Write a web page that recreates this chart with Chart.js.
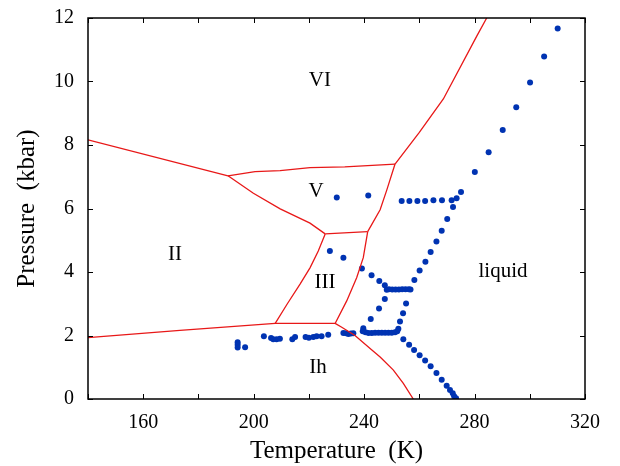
<!DOCTYPE html>
<html>
<head>
<meta charset="utf-8">
<script src="https://cdn.jsdelivr.net/npm/chart.js@4.4.0/dist/chart.umd.min.js"></script>
<style>
  body { margin: 0; background: #fff; }
  canvas { display: block; }
</style>
</head>
<body>
<canvas id="phase-chart" width="620" height="466"></canvas>
<script>
// Phase boundaries (T in K, P in kbar)
const lineII_VI_T = [140, 190.7];
const lineII_VI_P = [8.16, 7.03];
const lineV_VI_T = [190.7, 200.5, 209.6, 220.4, 233.0, 251.2];
const lineV_VI_P = [7.03, 7.16, 7.19, 7.29, 7.31, 7.40];
const lineVI_liq_T = [251.2, 260.0, 268.7, 280.8, 284.4];
const lineVI_liq_P = [7.40, 8.40, 9.45, 11.43, 12.0];
const lineII_V_T = [190.7, 199.9, 209.6, 220.4, 225.9];
const lineII_V_P = [7.03, 6.48, 5.99, 5.54, 5.20];
const lineV_III_T = [225.9, 241.3];
const lineV_III_P = [5.20, 5.27];
const lineV_liq_T = [241.3, 245.8, 248.2, 251.2];
const lineV_liq_P = [5.27, 5.96, 6.58, 7.40];
const lineII_III_T = [225.9, 223.4, 220.4, 216.8, 212.2, 207.8];
const lineII_III_P = [5.20, 4.66, 4.13, 3.62, 3.00, 2.38];
const lineIII_liq_T = [241.3, 239.7, 237.3, 233.7, 229.5];
const lineIII_liq_P = [5.27, 4.45, 3.82, 3.09, 2.38];
const lineII_Ih_T = [140, 173.3, 207.8, 229.5];
const lineII_Ih_P = [1.93, 2.16, 2.38, 2.38];
const lineIh_liq_T = [229.5, 231.9, 236.7, 242.7, 245.8, 250.6, 254.2, 257.8];
const lineIh_liq_P = [2.38, 2.26, 2.00, 1.55, 1.32, 0.91, 0.49, 0.0];

// Simulated melting / transition points
const dotT = [
  310.1, 305.2, 300.1, 295.1, 290.2, 285.1, 280.1, 275.1, 273.5, 271.7, 272.2,
  268.2, 265.1, 262.1, 259.3, 256.4, 253.6,
  270.1, 268.1, 266.2, 264.1, 262.2, 260.1, 258.2,
  230.1, 241.5,
  227.6, 232.5, 239.2, 242.7, 245.5, 247.5,
  248.2, 249.0, 250.2, 251.4, 252.6, 253.8, 255.0, 256.2, 256.8,
  247.5, 255.2, 245.4, 254.1, 242.4, 253.0, 239.7,
  239.5, 240.5, 241.6, 242.8, 244.0, 245.2, 246.4, 247.6, 248.8, 250.0, 251.2, 252.0, 252.4,
  254.2, 256.3, 258.1, 260.1, 262.1, 264.1, 266.2, 268.1, 269.9, 271.1, 272.1, 272.6, 273.3,
  232.5, 233.5, 234.3, 235.2, 236.1,
  218.8, 220.0, 221.6, 222.8, 224.6, 227.0,
  194.2, 194.2, 194.2, 196.9, 203.7, 206.3, 207.1, 208.3, 209.5, 214.0, 215.0
];
const dotP = [
  11.67, 10.79, 9.97, 9.19, 8.47, 7.77, 7.15, 6.52, 6.32, 6.26, 6.05,
  6.26, 6.26, 6.24, 6.24, 6.24, 6.24,
  5.67, 5.30, 4.96, 4.63, 4.32, 4.05, 3.75,
  6.35, 6.41,
  4.66, 4.45, 4.11, 3.90, 3.72, 3.58,
  3.44, 3.46, 3.45, 3.45, 3.45, 3.46, 3.46, 3.46, 3.45,
  3.15, 3.01, 2.85, 2.70, 2.52, 2.44, 2.23,
  2.13, 2.10, 2.08, 2.08, 2.09, 2.09, 2.09, 2.09, 2.09, 2.09, 2.10, 2.13, 2.21,
  1.88, 1.71, 1.54, 1.38, 1.21, 1.03, 0.82, 0.61, 0.42, 0.28, 0.18, 0.09, 0.02,
  2.08, 2.07, 2.05, 2.06, 2.07,
  1.95, 1.93, 1.95, 1.98, 1.98, 2.02,
  1.79, 1.71, 1.62, 1.63, 1.98, 1.92, 1.88, 1.88, 1.90, 1.88, 1.95
];

// Phase names and where they sit
const phaseNames = ['VI', 'V', 'II', 'III', 'liquid', 'Ih'];
const phaseT = [224.0, 222.6, 171.5, 225.8, 290.3, 223.3];
const phaseP = [10.03, 6.53, 4.56, 3.66, 4.03, 1.00];

const SERIF = "'Liberation Serif', 'Times New Roman', serif";
const RED = 'rgb(232, 24, 24)';
const BLUE = 'rgb(0, 51, 178)';

function toPoints(xs, ys) {
    return xs.map((x, i) => ({ x: x, y: ys[i] }));
}

function boundary(xs, ys) {
    return {
        data: toPoints(xs, ys),
        showLine: true,
        borderColor: RED,
        borderWidth: 1.3,
        pointRadius: 0,
        fill: false,
        tension: 0
    };
}

// Frame, inward ticks and phase labels
const framePlugin = {
    id: 'framePlugin',
    afterDatasetsDraw(chart) {
        const ctx = chart.ctx;
        const area = chart.chartArea;
        const xs = chart.scales.x;
        const ys = chart.scales.y;
        const tick = 5;

        ctx.save();
        ctx.strokeStyle = '#000';
        ctx.lineWidth = 1;
        ctx.beginPath();
        xs.ticks.forEach(t => {
            const px = Math.round(xs.getPixelForValue(t.value)) + 0.5;
            ctx.moveTo(px, area.bottom);
            ctx.lineTo(px, area.bottom - tick);
            ctx.moveTo(px, area.top);
            ctx.lineTo(px, area.top + tick);
        });
        ys.ticks.forEach(t => {
            const py = Math.round(ys.getPixelForValue(t.value)) + 0.5;
            ctx.moveTo(area.left, py);
            ctx.lineTo(area.left + tick, py);
            ctx.moveTo(area.right, py);
            ctx.lineTo(area.right - tick, py);
        });
        ctx.stroke();

        ctx.lineWidth = 1.5;
        ctx.strokeRect(area.left, area.top, area.right - area.left, area.bottom - area.top);

        ctx.fillStyle = '#000';
        ctx.font = '21px ' + SERIF;
        ctx.textAlign = 'center';
        ctx.textBaseline = 'middle';
        phaseNames.forEach((name, i) => {
            ctx.fillText(name, xs.getPixelForValue(phaseT[i]), ys.getPixelForValue(phaseP[i]));
        });
        ctx.restore();
    }
};

const ctx = document.getElementById('phase-chart').getContext('2d');
const chart = new Chart(ctx, {
    type: 'scatter',
    data: {
        datasets: [
            boundary(lineII_VI_T, lineII_VI_P),
            boundary(lineV_VI_T, lineV_VI_P),
            boundary(lineVI_liq_T, lineVI_liq_P),
            boundary(lineII_V_T, lineII_V_P),
            boundary(lineV_III_T, lineV_III_P),
            boundary(lineV_liq_T, lineV_liq_P),
            boundary(lineII_III_T, lineII_III_P),
            boundary(lineIII_liq_T, lineIII_liq_P),
            boundary(lineII_Ih_T, lineII_Ih_P),
            boundary(lineIh_liq_T, lineIh_liq_P),
            {
                data: toPoints(dotT, dotP),
                showLine: false,
                pointRadius: 3,
                pointBackgroundColor: BLUE,
                pointBorderColor: BLUE,
                pointBorderWidth: 0
            }
        ]
    },
    options: {
        responsive: false,
        animation: false,
        devicePixelRatio: 1,
        layout: { padding: { top: 8, right: 35, bottom: 0, left: 0 } },
        plugins: {
            legend: { display: false },
            tooltip: { enabled: false }
        },
        scales: {
            x: {
                type: 'linear',
                min: 140,
                max: 320,
                grid: { display: false },
                border: { display: false },
                ticks: {
                    stepSize: 20,
                    autoSkip: false,
                    maxRotation: 0,
                    padding: 4,
                    color: '#000',
                    font: { family: SERIF, size: 20 },
                    callback: v => (v % 40 === 0 ? v : '')
                },
                title: {
                    display: true,
                    text: 'Temperature  (K)',
                    color: '#000',
                    font: { family: SERIF, size: 25 },
                    padding: { top: 0, bottom: 0 }
                },
                afterFit: scale => { scale.height = 67; }
            },
            y: {
                type: 'linear',
                min: 0,
                max: 12,
                grid: { display: false },
                border: { display: false },
                ticks: {
                    stepSize: 2,
                    padding: 6,
                    color: '#000',
                    font: { family: SERIF, size: 20 }
                },
                title: {
                    display: true,
                    text: 'Pressure  (kbar)',
                    color: '#000',
                    font: { family: SERIF, size: 25 },
                    padding: { top: 12, bottom: 0 }
                },
                afterFit: scale => { scale.width = 88; }
            }
        }
    },
    plugins: [framePlugin]
});
</script>
</body>
</html>
